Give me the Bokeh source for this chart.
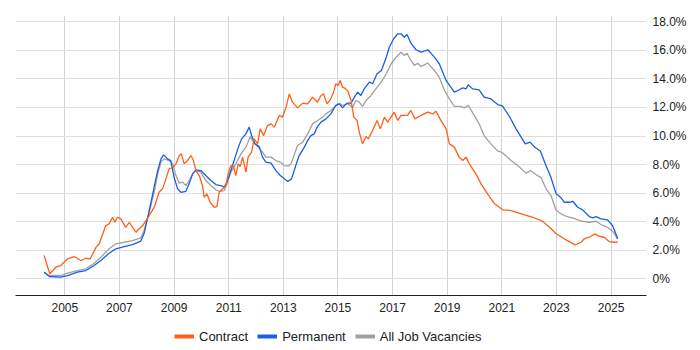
from bokeh.plotting import figure
from bokeh.models import FixedTicker, Legend, LegendItem, Range1d
from bokeh.layouts import column
from bokeh.embed import file_html
from bokeh.resources import INLINE

# ---------------- data ----------------
contract_years = [2004.24, 2004.45, 2004.67, 2004.85, 2005.10, 2005.34, 2005.59, 2005.77, 2005.93,
                  2006.14, 2006.26, 2006.50, 2006.62, 2006.75, 2006.83, 2006.93, 2007.05, 2007.23,
                  2007.36, 2007.60, 2007.72, 2007.85, 2007.97, 2008.09, 2008.27, 2008.45, 2008.58,
                  2008.70, 2008.82, 2008.95, 2009.07, 2009.19, 2009.27, 2009.37, 2009.49, 2009.62,
                  2009.71, 2009.80, 2009.92, 2010.04, 2010.10, 2010.20, 2010.32, 2010.47, 2010.57,
                  2010.65, 2010.78, 2010.90, 2010.98, 2011.08, 2011.18, 2011.26, 2011.35, 2011.42,
                  2011.51, 2011.63, 2011.71, 2011.84, 2011.93, 2012.06, 2012.15, 2012.28, 2012.42,
                  2012.55, 2012.67, 2012.85, 2012.97, 2013.10, 2013.22, 2013.34, 2013.52, 2013.71,
                  2013.89, 2014.07, 2014.25, 2014.38, 2014.47, 2014.60, 2014.74, 2014.86, 2014.92,
                  2015.01, 2015.08, 2015.17, 2015.29, 2015.38, 2015.48, 2015.58, 2015.70, 2015.78,
                  2015.90, 2016.03, 2016.11, 2016.27, 2016.43, 2016.55, 2016.70, 2016.82, 2016.94,
                  2017.06, 2017.19, 2017.31, 2017.55, 2017.67, 2017.82, 2018.04, 2018.29, 2018.47,
                  2018.59, 2018.77, 2018.96, 2019.08, 2019.26, 2019.44, 2019.57, 2019.69, 2019.81,
                  2020.05, 2020.24, 2020.48, 2020.73, 2021.03, 2021.34, 2021.83, 2022.13, 2022.44,
                  2022.68, 2022.99, 2023.29, 2023.68, 2023.90, 2024.02, 2024.20, 2024.41, 2024.57,
                  2024.75, 2024.93, 2025.12, 2025.24]
contract_pct = [1.63, 0.35, 0.81, 0.93, 1.40, 1.56, 1.28, 1.44, 1.40,
                2.20, 2.45, 3.73, 3.85, 4.31, 3.96, 4.31, 4.20, 3.60,
                3.96, 3.26, 3.50, 3.73, 4.08, 4.43, 5.00, 6.06, 6.30,
                7.00, 7.70, 7.81, 8.05, 8.63, 8.75, 8.05, 8.28, 8.63,
                8.28, 7.58, 7.23, 6.53, 5.71, 5.95, 5.36, 5.01, 5.06,
                6.06, 6.30, 6.53, 7.35, 7.93, 7.86, 7.23, 8.05, 7.86,
                8.52, 7.47, 8.52, 8.87, 9.80, 9.45, 10.50, 10.03, 10.73,
                10.85, 10.62, 11.44, 11.32, 12.02, 12.95, 12.37, 11.97, 12.30,
                12.25, 12.72, 12.37, 12.84, 12.95, 12.25, 12.60, 13.19, 13.66,
                13.54, 13.89, 13.42, 13.30, 13.07, 12.49, 11.32, 11.09, 10.27,
                9.45, 9.96, 9.80, 10.39, 11.09, 10.50, 11.32, 10.97, 11.32,
                11.67, 11.09, 11.44, 11.44, 11.79, 11.20, 11.44, 11.67, 11.55,
                11.74, 11.09, 10.50, 9.45, 9.22, 8.52, 8.28, 8.52, 8.05,
                7.35, 6.65, 5.95, 5.25, 4.83, 4.78, 4.48, 4.31, 4.08,
                3.73, 3.15, 2.80, 2.38, 2.56, 2.80, 2.91, 3.15, 2.98,
                2.91, 2.61, 2.56, 2.56]

permanent_years = [2004.24, 2004.43, 2004.85, 2005.10, 2005.46, 2005.77, 2006.07, 2006.32, 2006.62,
                   2006.87, 2007.17, 2007.48, 2007.78, 2007.90, 2008.09, 2008.27, 2008.40, 2008.52,
                   2008.62, 2008.76, 2008.88, 2009.00, 2009.13, 2009.25, 2009.43, 2009.55, 2009.68,
                   2009.80, 2009.98, 2010.16, 2010.35, 2010.53, 2010.71, 2010.84, 2010.96, 2011.08,
                   2011.20, 2011.33, 2011.47, 2011.63, 2011.75, 2011.84, 2011.96, 2012.12, 2012.24,
                   2012.36, 2012.55, 2012.73, 2012.89, 2013.16, 2013.30, 2013.45, 2013.58, 2013.77,
                   2013.89, 2014.01, 2014.13, 2014.25, 2014.38, 2014.56, 2014.74, 2014.92, 2015.05,
                   2015.17, 2015.33, 2015.48, 2015.60, 2015.72, 2015.84, 2015.96, 2016.15, 2016.27,
                   2016.43, 2016.59, 2016.77, 2016.88, 2017.04, 2017.19, 2017.31, 2017.43, 2017.53,
                   2017.67, 2017.86, 2018.04, 2018.29, 2018.53, 2018.71, 2018.96, 2019.26, 2019.39,
                   2019.57, 2019.69, 2019.77, 2019.93, 2020.17, 2020.35, 2020.60, 2020.85, 2021.03,
                   2021.30, 2021.52, 2021.86, 2022.03, 2022.22, 2022.41, 2022.60, 2022.78, 2022.99,
                   2023.17, 2023.29, 2023.47, 2023.60, 2023.78, 2023.96, 2024.20, 2024.33, 2024.45,
                   2024.63, 2024.87, 2025.05, 2025.13, 2025.24]
permanent_pct = [0.46, 0.16, 0.11, 0.23, 0.46, 0.58, 0.93, 1.28, 1.79,
                 2.10, 2.26, 2.40, 2.64, 3.15, 4.78, 6.42, 7.58, 8.40,
                 8.68, 8.40, 8.28, 7.11, 6.30, 6.06, 6.13, 6.65, 7.35,
                 7.63, 7.58, 7.23, 6.88, 6.60, 6.53, 6.42, 6.88, 7.58,
                 8.28, 9.10, 9.80, 10.15, 10.62, 10.03, 9.45, 9.26, 8.52,
                 8.17, 8.10, 7.58, 7.23, 6.81, 7.00, 7.90, 8.63, 9.22,
                 9.68, 10.03, 10.15, 10.66, 10.97, 11.20, 11.55, 12.14, 12.25,
                 11.97, 12.30, 12.30, 12.72, 13.07, 12.84, 13.30, 13.77, 13.66,
                 14.36, 14.59, 15.52, 16.22, 16.81, 17.16, 17.16, 16.92, 17.11,
                 16.50, 16.04, 15.87, 16.04, 15.52, 15.06, 13.89, 13.07, 13.19,
                 13.37, 13.30, 13.59, 13.30, 13.23, 12.72, 12.60, 12.20, 12.10,
                 11.30, 10.50, 9.45, 9.57, 9.20, 8.95, 8.00, 7.20, 5.95,
                 5.67, 5.36, 5.36, 5.43, 5.01, 4.83, 4.36, 4.27, 4.36,
                 4.20, 4.13, 3.73, 3.38, 2.80]

all_years = [2004.24, 2004.43, 2004.85, 2005.10, 2005.46, 2005.77, 2006.07, 2006.32, 2006.62,
             2006.87, 2007.17, 2007.48, 2007.78, 2007.90, 2008.09, 2008.27, 2008.40, 2008.52,
             2008.64, 2008.82, 2008.95, 2009.07, 2009.19, 2009.31, 2009.43, 2009.55, 2009.68,
             2009.80, 2009.98, 2010.16, 2010.35, 2010.53, 2010.65, 2010.84, 2010.96, 2011.08,
             2011.26, 2011.45, 2011.63, 2011.79, 2011.91, 2012.06, 2012.24, 2012.36, 2012.55,
             2012.73, 2012.89, 2013.03, 2013.20, 2013.28, 2013.52, 2013.71, 2013.89, 2014.07,
             2014.26, 2014.44, 2014.56, 2014.74, 2014.93, 2015.05, 2015.17, 2015.36, 2015.54,
             2015.66, 2015.78, 2015.90, 2016.03, 2016.21, 2016.39, 2016.58, 2016.77, 2016.95,
             2017.13, 2017.31, 2017.43, 2017.53, 2017.67, 2017.80, 2017.92, 2018.04, 2018.29,
             2018.53, 2018.71, 2018.90, 2019.08, 2019.26, 2019.50, 2019.63, 2019.77, 2019.99,
             2020.17, 2020.35, 2020.60, 2020.85, 2021.00, 2021.34, 2021.58, 2021.89, 2022.05,
             2022.25, 2022.44, 2022.62, 2022.80, 2022.99, 2023.17, 2023.29, 2023.47, 2023.60,
             2023.78, 2023.96, 2024.20, 2024.45, 2024.63, 2024.87, 2025.05, 2025.13, 2025.24]
all_pct = [0.46, 0.23, 0.23, 0.39, 0.58, 0.70, 1.09, 1.51, 2.10,
           2.45, 2.56, 2.68, 2.87, 3.38, 4.66, 6.06, 7.35, 8.17,
           8.40, 8.28, 8.05, 7.23, 6.70, 6.77, 6.53, 6.88, 7.35,
           7.58, 7.47, 6.88, 6.53, 6.23, 6.13, 6.18, 6.77, 7.47,
           8.05, 8.75, 9.22, 9.96, 9.57, 9.26, 8.87, 8.52, 8.52,
           8.28, 8.17, 7.93, 7.90, 8.05, 9.33, 9.57, 10.15, 10.85,
           11.09, 11.32, 11.55, 11.79, 12.14, 12.30, 12.14, 12.25, 12.02,
           12.49, 12.37, 12.07, 12.49, 12.84, 13.30, 13.77, 14.36, 15.06,
           15.52, 15.87, 15.64, 15.80, 15.29, 14.94, 15.10, 14.87, 15.10,
           14.59, 14.12, 13.19, 12.60, 12.07, 12.07, 11.97, 12.14, 11.44,
           10.85, 10.03, 9.45, 8.94, 8.87, 8.28, 7.93, 7.40, 7.58,
           7.30, 7.07, 6.30, 5.83, 4.78, 4.55, 4.43, 4.31, 4.27,
           4.13, 4.03, 3.96, 4.03, 3.80, 3.61, 3.33, 3.15, 2.80]

year_ticks = [2005, 2007, 2009, 2011, 2013, 2015, 2017, 2019, 2021, 2023, 2025]
pct_ticks = [0, 2, 4, 6, 8, 10, 12, 14, 16, 18]
pct_tick_labels = ["0%", "2.0%", "4.0%", "6.0%", "8.0%", "10.0%", "12.0%", "14.0%", "16.0%", "18.0%"]
series_names = ["Contract", "Permanent", "All Job Vacancies"]
series_colors = ["#ff5f1a", "#1a5fe0", "#a0a0a0"]

# ---------------- main chart ----------------
FONT = "Liberation Sans"

p = figure(width=692, height=322, output_backend="svg", toolbar_location=None,
           x_range=Range1d(2003.194, 2026.297), y_range=Range1d(-1.17, 18.44),
           y_axis_location="right",
           min_border_left=15, min_border_top=15, min_border_right=46, min_border_bottom=27)
p.outline_line_color = None
p.background_fill_color = "white"
p.border_fill_color = "white"

xa = p.xaxis[0]
xa.ticker = FixedTicker(ticks=year_ticks)
xa.axis_line_color = "#222222"
xa.axis_line_width = 1
xa.major_tick_line_color = None
xa.minor_tick_line_color = None
xa.major_tick_out = 0
xa.major_tick_in = 0
xa.major_label_standoff = 7
xa.major_label_text_font = FONT
xa.major_label_text_font_size = "12px"
xa.major_label_text_color = "#222222"

ya = p.yaxis[0]
ya.ticker = FixedTicker(ticks=pct_ticks)
ya.major_label_overrides = {t: lab for t, lab in zip(pct_ticks, pct_tick_labels)}
ya.axis_line_color = None
ya.major_tick_line_color = None
ya.minor_tick_line_color = None
ya.major_tick_out = 0
ya.major_tick_in = 0
ya.major_label_standoff = 6
ya.major_label_text_font = FONT
ya.major_label_text_font_size = "12px"
ya.major_label_text_color = "#222222"

p.xgrid.ticker = FixedTicker(ticks=year_ticks)
p.xgrid.grid_line_color = "#d4d4d4"
p.ygrid.ticker = FixedTicker(ticks=pct_ticks)
p.ygrid.grid_line_color = "#e0e0e0"

p.line(all_years, all_pct, line_color=series_colors[2], line_width=1.3)
p.line(permanent_years, permanent_pct, line_color=series_colors[1], line_width=1.3)
p.line(contract_years, contract_pct, line_color=series_colors[0], line_width=1.3)

# ---------------- legend strip ----------------
lg = figure(width=692, height=28, output_backend="svg", toolbar_location=None,
            x_range=Range1d(0, 1), y_range=Range1d(0, 1),
            x_axis_type=None, y_axis_type=None, min_border=0)
lg.outline_line_color = None
lg.xgrid.visible = False
lg.ygrid.visible = False

items = []
for name, col in zip(series_names, series_colors):
    # swatch renderers: data lies outside the strip's ranges so only the legend glyph shows
    r = lg.line([-5, -4], [-5, -5], line_color=col, line_width=4)
    items.append(LegendItem(label=name, renderers=[r]))

legend = Legend(items=items, orientation="horizontal", location=(159, 6),
                border_line_color=None, background_fill_alpha=0,
                padding=0, margin=0, spacing=9, label_standoff=5,
                glyph_width=20, glyph_height=16, label_height=16,
                label_text_font=FONT, label_text_font_size="13px",
                label_text_color="#222222")
lg.add_layout(legend, "center")

layout = column(p, lg, spacing=0)
open("out.html", "w").write(file_html(layout, INLINE))
